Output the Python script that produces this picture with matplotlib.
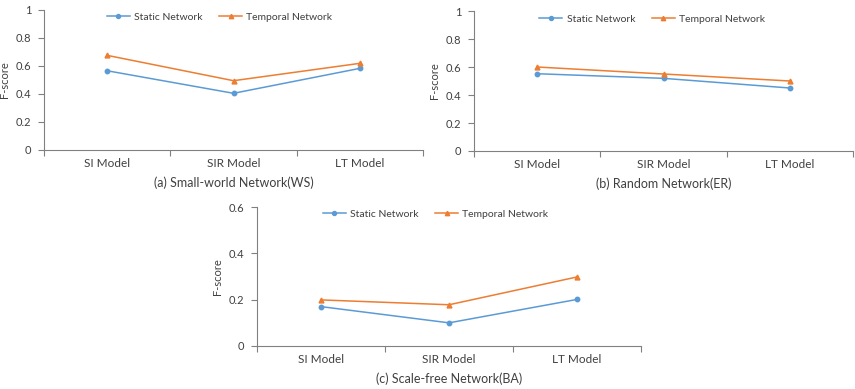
import matplotlib
matplotlib.use("Agg")
import matplotlib.pyplot as plt

plt.rcParams['font.family'] = ['Lato', 'DejaVu Sans']

categories = ["SI Model", "SIR Model", "LT Model"]
series_names = ["Static Network", "Temporal Network"]

ws_static = [0.566, 0.405, 0.583]
ws_temporal = [0.676, 0.495, 0.619]
er_static = [0.552, 0.519, 0.450]
er_temporal = [0.600, 0.550, 0.500]
ba_static = [0.170, 0.100, 0.201]
ba_temporal = [0.199, 0.178, 0.298]

captions = ["(a) Small-world Network(WS)", "(b) Random Network(ER)", "(c) Scale-free Network(BA)"]
yticks_ab = [0, 0.2, 0.4, 0.6, 0.8, 1]
yticklabels_ab = ["0", "0.2", "0.4", "0.6", "0.8", "1"]
yticks_c = [0, 0.2, 0.4, 0.6]
yticklabels_c = ["0", "0.2", "0.4", "0.6"]

BLUE = "#5B9BD5"
ORANGE = "#ED7D31"
TXT = "#404040"

fig = plt.figure(figsize=(8.55, 3.89), dpi=100)

W, H = 855, 389
def rect(l, r, t, b):
    return [l / W, 1 - b / H, (r - l) / W, (b - t) / H]

panels = [
    (rect(44, 423, 10, 150), ws_static, ws_temporal, yticks_ab, yticklabels_ab, 1.0, captions[0], (0.463, 0.95)),
    (rect(474, 853, 11, 151), er_static, er_temporal, yticks_ab, yticklabels_ab, 1.0, captions[1], (0.47, 0.943)),
    (rect(257, 641, 207, 346), ba_static, ba_temporal, yticks_c, yticklabels_c, 0.6, captions[2], (0.465, 0.95)),
]

for pos, s, t, yt, ytl, ymax, cap, lpos in panels:
    ax = fig.add_axes(pos)
    x = list(range(len(categories)))
    ax.plot(x, s, color=BLUE, marker='o', markersize=3.2, linewidth=1.1, label=series_names[0])
    ax.plot(x, t, color=ORANGE, marker='^', markersize=3.5, linewidth=1.1, label=series_names[1])
    ax.set_xlim(-0.5, len(categories) - 0.5)
    ax.set_ylim(0, ymax)
    ax.set_xticks(x)
    ax.set_xticklabels(categories)
    ax.set_xticks([-0.5, 0.5, 1.5, 2.5], minor=True)
    ax.tick_params(axis='x', which='major', length=0, pad=6, labelsize=8.5, labelcolor=TXT)
    ax.tick_params(axis='x', which='minor', length=4, width=0.8, direction='out', color='#808080')
    ax.set_yticks(yt)
    ax.set_yticklabels(ytl)
    ax.tick_params(axis='y', length=4, width=0.8, direction='out', color='#808080', labelsize=8, labelcolor=TXT, pad=5)
    for side in ['top', 'right']:
        ax.spines[side].set_visible(False)
    for side in ['left', 'bottom']:
        ax.spines[side].set_color('#808080')
        ax.spines[side].set_linewidth(0.8)
    ax.set_ylabel("F-score", fontsize=8, color=TXT, labelpad=4)
    ax.set_xlabel(cap, fontsize=9, color=TXT, labelpad=5)
    ax.legend(loc='center', bbox_to_anchor=lpos, ncol=2, frameon=False,
              fontsize=7.5, labelcolor=TXT, handlelength=2.2, columnspacing=1.6,
              handletextpad=0.4, markerscale=0.9, borderpad=0)

fig.savefig("out.png", dpi=100)
